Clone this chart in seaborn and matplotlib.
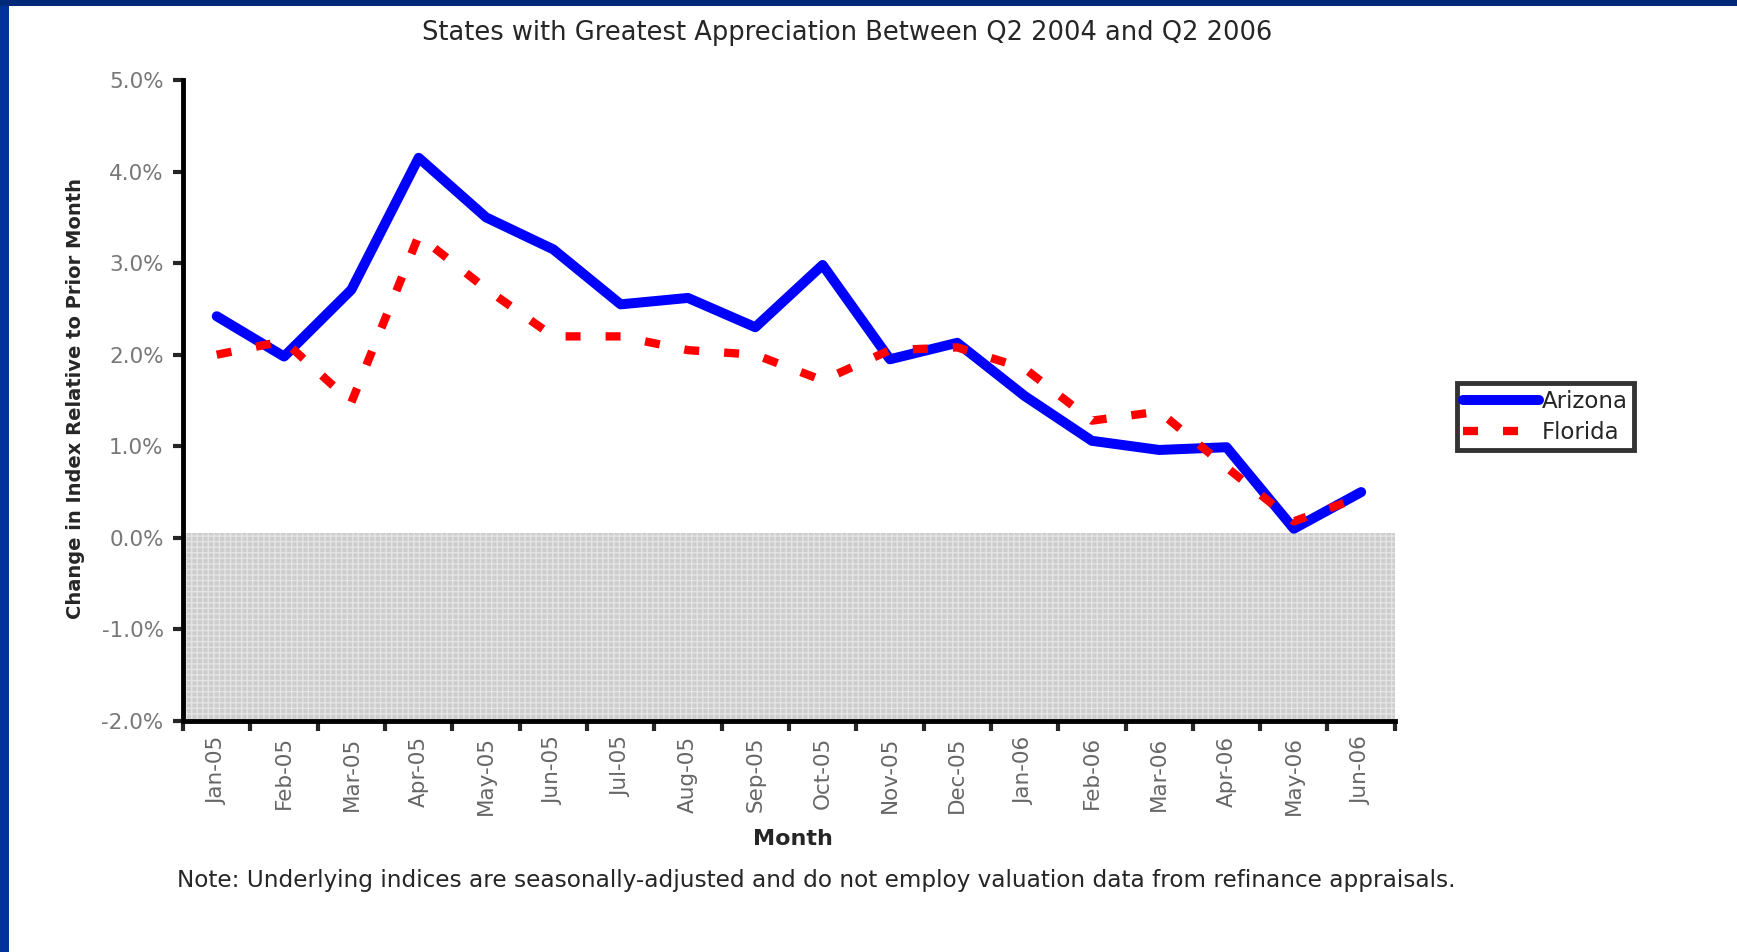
import numpy as np
import pandas as pd
import matplotlib
matplotlib.use("Agg")
import matplotlib.pyplot as plt
from matplotlib.patches import Rectangle
import seaborn as sns

# Datos del gráfico
months = ['Jan-05', 'Feb-05', 'Mar-05', 'Apr-05', 'May-05', 'Jun-05',
          'Jul-05', 'Aug-05', 'Sep-05', 'Oct-05', 'Nov-05', 'Dec-05',
          'Jan-06', 'Feb-06', 'Mar-06', 'Apr-06', 'May-06', 'Jun-06']
arizona = [2.42, 1.98, 2.71, 4.15, 3.50, 3.15, 2.55, 2.62, 2.30, 2.98,
           1.95, 2.13, 1.55, 1.06, 0.96, 0.99, 0.10, 0.50]
florida = [2.00, 2.15, 1.48, 3.30, 2.72, 2.20, 2.20, 2.05, 2.00, 1.72,
           2.05, 2.08, 1.85, 1.28, 1.38, 0.77, 0.18, 0.45]
y_ticks = [-2, -1, 0, 1, 2, 3, 4, 5]

title = 'States with Greatest Appreciation Between Q2 2004 and Q2 2006'
note = ('Note: Underlying indices are seasonally-adjusted and do not employ '
        'valuation data from refinance appraisals.')

# Estilo
sns.set_style("white")
plt.rcParams['font.family'] = ['DejaVu Sans']

df = pd.DataFrame({'pos': np.arange(len(months)), 'month': months,
                   'Arizona': arizona, 'Florida': florida})

fig = plt.figure(figsize=(17.37, 9.52), dpi=100)
fig.patch.set_facecolor('white')
ax = fig.add_axes([0.1054, 0.2426, 0.6976, 0.6734])

# zona sombreada por debajo de cero
ax.axhspan(-2, 0.05, facecolor='#cdcdcd', edgecolor='#e4e4e4',
           hatch='+++', linewidth=0, zorder=0)

sns.lineplot(data=df, x='pos', y='Arizona', ax=ax, color='#0000ff',
             linewidth=7.2, label='Arizona', zorder=3)
sns.lineplot(data=df, x='pos', y='Florida', ax=ax, color='#ff0000',
             linewidth=6, label='Florida', zorder=4)
ax.lines[1].set_dashes((1.8, 3.0))

ax.set_xlim(-0.5, len(months) - 0.5)
ax.set_ylim(-2, 5)
ax.set_yticks(y_ticks)
ax.set_yticklabels([f'{v:.1f}%' for v in y_ticks])

# ticks en los límites de categoría, etiquetas en el centro
ax.set_xticks(np.arange(len(months) + 1) - 0.5)
ax.set_xticklabels([])
ax.set_xticks(np.arange(len(months)), minor=True)
ax.set_xticklabels(months, minor=True, rotation=90, va='top')
ax.tick_params(axis='x', which='major', length=7, width=3, direction='out',
               bottom=True)
ax.tick_params(axis='x', which='minor', length=0, pad=11, labelsize=15.5,
               labelcolor='#666666')
ax.tick_params(axis='y', length=7, width=3, direction='out', left=True,
               pad=7, labelsize=15.5, labelcolor='#777777')

for side in ['top', 'right']:
    ax.spines[side].set_visible(False)
for side in ['left', 'bottom']:
    ax.spines[side].set_linewidth(3.5)
    ax.spines[side].set_color('black')
ax.set_xlabel('')
ax.set_ylabel('')

leg = ax.legend(loc='center left', bbox_to_anchor=(1.051, 0.475),
                fontsize=16.5, frameon=True, fancybox=False, handlelength=3.3,
                borderpad=0.3, labelspacing=0.35, handletextpad=0.1,
                borderaxespad=0)
leg.get_frame().set_edgecolor('black')
leg.get_frame().set_linewidth(3.5)

# textos
fig.text(0.4876, 0.965, title, ha='center', va='center', fontsize=18.5)
fig.text(0.4565, 0.119, 'Month', ha='center', va='center', fontsize=16,
         fontweight='bold')
fig.text(0.0432, 0.581, 'Change in Index Relative to Prior Month',
         ha='center', va='center', rotation=90, fontsize=14,
         fontweight='bold')
fig.text(0.102, 0.0746, note, ha='left', va='center', fontsize=16.7)

# marco azul de la diapositiva
fig.patches.append(Rectangle((0, 0), 0.005, 1, transform=fig.transFigure,
                             facecolor='#003399', edgecolor='none'))
fig.patches.append(Rectangle((0, 0.9937), 1, 0.0063, transform=fig.transFigure,
                             facecolor='#00297a', edgecolor='none'))

plt.savefig('out.png', dpi=100)
